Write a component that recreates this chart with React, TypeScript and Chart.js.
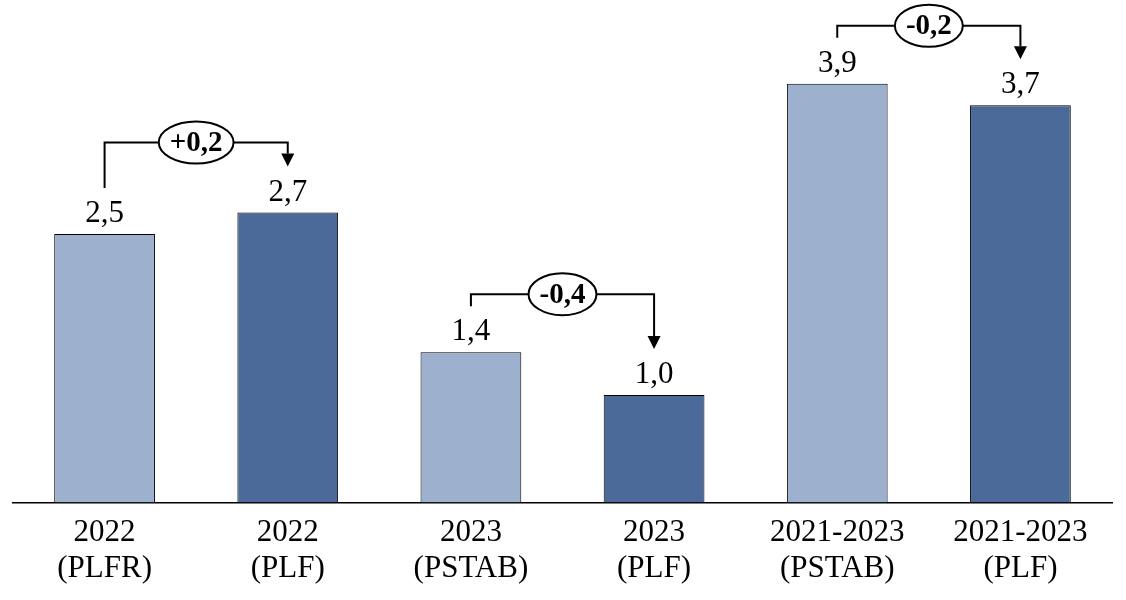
import React, { useRef, useEffect } from 'react';
import { Chart, registerables } from 'chart.js';

Chart.register(...registerables);

const FONT = '"Liberation Serif", "Times New Roman", serif';
const LIGHT = '#9DB0CD';
const DARK = '#4B6A9A';

const categories = [
  ['2022', '(PLFR)'],
  ['2022', '(PLF)'],
  ['2023', '(PSTAB)'],
  ['2023', '(PLF)'],
  ['2021-2023', '(PSTAB)'],
  ['2021-2023', '(PLF)'],
];
const values = [2.5, 2.7, 1.4, 1.0, 3.9, 3.7];
const barColors = [LIGHT, DARK, LIGHT, DARK, LIGHT, DARK];

// differences between paired bars
const changeFrom = [0, 2, 4];
const changeTo = [1, 3, 5];
const changeLabels = ['+0,2', '-0,4', '-0,2'];
const changeLift = [12, 0, 0]; // extra px above the default bracket level

const fmt = (v: number) => v.toFixed(1).replace('.', ',');

const valueLabels = {
  id: 'valueLabels',
  afterDatasetsDraw(chart: Chart) {
    const { ctx } = chart;
    const meta = chart.getDatasetMeta(0);
    ctx.save();
    ctx.font = `31px ${FONT}`;
    ctx.fillStyle = '#000';
    ctx.textAlign = 'center';
    ctx.textBaseline = 'alphabetic';
    meta.data.forEach((bar: any, i: number) => {
      ctx.fillText(fmt(values[i]), bar.x, bar.y - 12);
    });
    ctx.restore();
  },
};

const changeBrackets = {
  id: 'changeBrackets',
  afterDatasetsDraw(chart: Chart) {
    const { ctx } = chart;
    const x = chart.scales.x;
    const y = chart.scales.y;
    ctx.save();
    ctx.strokeStyle = '#000';
    ctx.fillStyle = '#000';
    ctx.lineWidth = 2;
    changeFrom.forEach((from, k) => {
      const to = changeTo[k];
      const x1 = x.getPixelForValue(from);
      const x2 = x.getPixelForValue(to);
      const y1 = y.getPixelForValue(values[from]) - 46;
      const y2 = y.getPixelForValue(values[to]) - 46;
      const level = Math.min(y1, y2) - 12 - changeLift[k];
      const head = 13;

      ctx.beginPath();
      ctx.moveTo(x1, y1);
      ctx.lineTo(x1, level);
      ctx.lineTo(x2, level);
      ctx.lineTo(x2, y2 - head);
      ctx.stroke();

      ctx.beginPath();
      ctx.moveTo(x2 - 6.5, y2 - head);
      ctx.lineTo(x2 + 6.5, y2 - head);
      ctx.lineTo(x2, y2);
      ctx.closePath();
      ctx.fill();

      ctx.font = `bold 29px ${FONT}`;
      const tw = ctx.measureText(changeLabels[k]).width;
      const cx = (x1 + x2) / 2;
      ctx.beginPath();
      ctx.ellipse(cx, level, tw / 2 + 11, 21, 0, 0, Math.PI * 2);
      ctx.fillStyle = '#fff';
      ctx.fill();
      ctx.stroke();
      ctx.fillStyle = '#000';
      ctx.textAlign = 'center';
      ctx.textBaseline = 'middle';
      ctx.fillText(changeLabels[k], cx, level + 1);
    });
    ctx.restore();
  },
};

export default function App() {
  const canvasRef = useRef<HTMLCanvasElement>(null);

  useEffect(() => {
    const canvas = canvasRef.current;
    if (!canvas) return;
    const chart = new Chart(canvas, {
      type: 'bar',
      data: {
        labels: categories,
        datasets: [
          {
            data: values,
            backgroundColor: barColors,
            borderColor: '#000',
            borderWidth: 1,
            borderSkipped: 'bottom',
            categoryPercentage: 1,
            barPercentage: 0.55,
          },
        ],
      },
      options: {
        animation: false,
        responsive: true,
        maintainAspectRatio: false,
        layout: { padding: { left: 13, right: 14, top: 0, bottom: 1 } },
        plugins: {
          legend: { display: false },
          tooltip: { enabled: false },
        },
        scales: {
          x: {
            grid: { display: false, drawTicks: false },
            border: { display: true, color: '#000', width: 1.5 },
            ticks: {
              color: '#000',
              padding: 12,
              font: { family: FONT, size: 31, lineHeight: 1.17 },
              maxRotation: 0,
              autoSkip: false,
            },
          },
          y: {
            display: false,
            min: 0,
            max: 4.68,
          },
        },
      },
      plugins: [valueLabels, changeBrackets],
    });
    return () => chart.destroy();
  }, []);

  return (
    <div style={{ position: 'fixed', left: 0, top: 0, width: 1126, height: 600, background: '#fff' }}>
      <canvas ref={canvasRef} />
    </div>
  );
}
